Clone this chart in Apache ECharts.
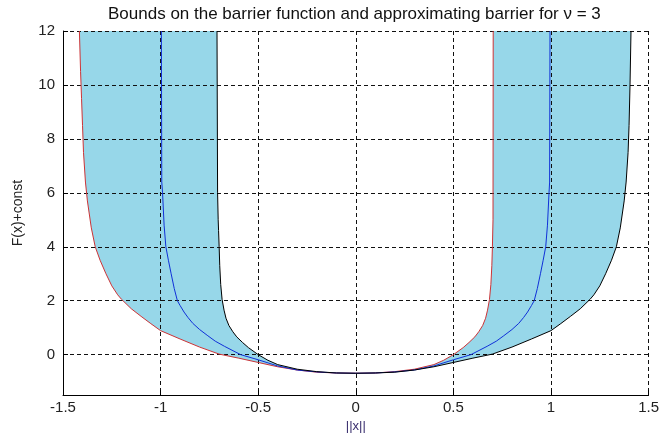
<!DOCTYPE html>
<html>
<head>
<meta charset="utf-8">
<script src="https://cdn.jsdelivr.net/npm/echarts@6/dist/echarts.min.js"></script>
<style>html,body{margin:0;padding:0;background:#fff;}#c{width:662px;height:438px;}</style>
</head>
<body>
<div id="c"></div>
<script>
var titleText = 'Bounds on the barrier function and approximating barrier for \u03bd = 3';
var xName = '||x||';
var yName = 'F(x)+const';
var xTicks = [-1.5, -1, -0.5, 0, 0.5, 1, 1.5];
var yTicks = [0, 2, 4, 6, 8, 10, 12];

// red: outer bound on the left, inner bound on the right
var redX = [-1.416, -1.41, -1.405, -1.40, -1.395, -1.385, -1.375, -1.355, -1.335, -1.31, -1.28, -1.25, -1.22, -1.20, -1.15, -1.10, -1.05, -1.00, -0.90, -0.80, -0.70, -0.60, -0.50, -0.40, -0.30, -0.20, -0.10, 0.00, 0.10, 0.20, 0.30, 0.40, 0.45, 0.50, 0.55, 0.58, 0.61, 0.63, 0.65, 0.665, 0.675, 0.685, 0.692, 0.697, 0.700, 0.703, 0.704];
var redY = [12, 10.5, 9.5, 8.5, 7.5, 6.4, 5.7, 4.7, 4.0, 3.5, 3.0, 2.55, 2.22, 2.05, 1.70, 1.42, 1.15, 0.89, 0.58, 0.28, 0.02, -0.13, -0.29, -0.45, -0.57, -0.65, -0.68, -0.69, -0.68, -0.63, -0.54, -0.37, -0.21, 0.0, 0.26, 0.45, 0.66, 0.85, 1.08, 1.35, 1.65, 2.05, 2.6, 3.3, 4.0, 5.0, 12];

// black: inner bound on the left, outer bound on the right
var blackX = [-0.711, -0.708, -0.705, -0.703, -0.700, -0.697, -0.692, -0.685, -0.675, -0.665, -0.65, -0.63, -0.61, -0.58, -0.55, -0.50, -0.45, -0.40, -0.30, -0.20, -0.10, 0.00, 0.10, 0.20, 0.30, 0.40, 0.50, 0.60, 0.70, 0.80, 0.90, 1.00, 1.05, 1.10, 1.15, 1.20, 1.22, 1.25, 1.28, 1.31, 1.335, 1.355, 1.375, 1.385, 1.395, 1.40, 1.405, 1.41];
var blackY = [12, 6.0, 5.0, 4.6, 4.0, 3.3, 2.6, 2.05, 1.65, 1.35, 1.08, 0.85, 0.66, 0.45, 0.26, 0.0, -0.21, -0.37, -0.54, -0.63, -0.68, -0.69, -0.68, -0.65, -0.57, -0.45, -0.29, -0.13, 0.02, 0.28, 0.58, 0.89, 1.15, 1.42, 1.70, 2.05, 2.22, 2.55, 3.0, 3.5, 4.0, 4.7, 5.7, 6.4, 7.5, 8.5, 10.0, 12];

// blue: approximating barrier
var blueX = [-0.996, -0.994, -0.99, -0.982, -0.973, -0.96, -0.946, -0.93, -0.914, -0.90, -0.88, -0.86, -0.835, -0.80, -0.758, -0.72, -0.673, -0.59, -0.5, -0.4, -0.3, -0.2, -0.1, 0, 0.1, 0.2, 0.3, 0.4, 0.5, 0.59, 0.673, 0.72, 0.758, 0.80, 0.835, 0.86, 0.88, 0.90, 0.914, 0.93, 0.946, 0.96, 0.973, 0.982, 0.99, 0.993, 0.995];
var blueY = [12, 6.4, 6.0, 4.8, 4.0, 3.5, 3.0, 2.45, 2.0, 1.82, 1.58, 1.38, 1.16, 0.93, 0.70, 0.50, 0.31, 0.0, -0.19, -0.42, -0.57, -0.64, -0.68, -0.69, -0.68, -0.64, -0.57, -0.42, -0.19, 0.0, 0.31, 0.50, 0.70, 0.93, 1.16, 1.38, 1.58, 1.82, 2.0, 2.45, 3.0, 3.5, 4.0, 4.8, 6.0, 6.4, 12];

function pairs(xs, ys) { return xs.map(function (x, i) { return [x, ys[i]]; }); }
var redData = pairs(redX, redY);
var blackData = pairs(blackX, blackY);
var blueData = pairs(blueX, blueY);
var fillData = redData.concat(blackData.slice().reverse());

var chart = echarts.init(document.getElementById('c'), null, { renderer: 'canvas' });
var labelColor = '#222';
var font = 'Liberation Sans, Arial, sans-serif';
chart.setOption({
  animation: false,
  backgroundColor: '#fff',
  title: {
    text: titleText,
    left: 103,
    top: 1,
    padding: 5,
    textStyle: { fontFamily: font, fontSize: 17, fontWeight: 'normal', color: '#111' }
  },
  grid: { left: 63, right: 12, top: 31, bottom: 38, containLabel: false },
  xAxis: {
    type: 'value', min: -1.5, max: 1.5, interval: 0.5,
    name: xName, nameLocation: 'middle', nameGap: 24,
    nameTextStyle: { fontFamily: font, fontSize: 13, color: '#3a2f6e' },
    axisLine: { show: true, onZero: false, lineStyle: { color: '#000', width: 1 } },
    axisTick: { show: true, inside: true, length: 5, lineStyle: { color: '#000' } },
    axisLabel: { fontFamily: font, fontSize: 15, color: labelColor, margin: 5,
      formatter: function (v) { return String(v); } },
    splitLine: { show: true, lineStyle: { color: '#111', type: [4, 3], width: 1 } }
  },
  yAxis: {
    type: 'value', min: -1.5, max: 12,
    name: yName, nameLocation: 'middle', nameGap: 38,
    nameTextStyle: { fontFamily: font, fontSize: 14, color: labelColor },
    axisLine: { show: true, onZero: false, lineStyle: { color: '#000', width: 1 } },
    axisTick: { show: true, inside: true, length: 5, customValues: yTicks, lineStyle: { color: '#000' } },
    axisLabel: { fontFamily: font, fontSize: 15, color: labelColor, margin: 8, customValues: yTicks },
    splitLine: { show: true, lineStyle: { color: '#111', type: [4, 3], width: 1 } }
  },
  series: [
    {
      type: 'custom', name: 'fill', z: -1, clip: true, silent: true,
      data: [[0, 0]],
      renderItem: function (params, api) {
        var pts = fillData.map(function (p) { return api.coord(p); });
        return { type: 'polygon', shape: { points: pts }, style: { fill: '#97d7e9', stroke: null } };
      }
    },
    { type: 'line', name: 'red', data: redData, showSymbol: false, symbol: 'none', clip: true,
      lineStyle: { color: '#cc3336', width: 1 } },
    { type: 'line', name: 'blue', data: blueData, showSymbol: false, symbol: 'none', clip: true,
      lineStyle: { color: '#1030d8', width: 1 } },
    { type: 'line', name: 'black', data: blackData, showSymbol: false, symbol: 'none', clip: true,
      lineStyle: { color: '#000', width: 1 } }
  ]
});
</script>
</body>
</html>
